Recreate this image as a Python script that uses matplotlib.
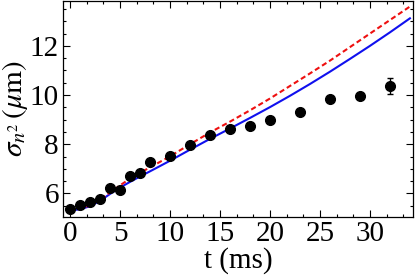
import matplotlib
matplotlib.use("Agg")
import matplotlib.pyplot as plt
from matplotlib.ticker import MultipleLocator, AutoMinorLocator

# Measured data
t_data = [0, 1, 2, 3, 4, 5, 6, 7, 8, 10, 12, 14, 16, 18, 20, 23, 26, 29, 32]
sigma_data = [5.35, 5.55, 5.65, 5.77, 6.23, 6.16, 6.70, 6.84, 7.28, 7.52, 7.95,
              8.37, 8.64, 8.75, 8.98, 9.32, 9.82, 9.96, 10.37]
sigma_err = [0, 0, 0, 0, 0, 0, 0, 0, 0, 0, 0, 0, 0, 0, 0, 0, 0, 0, 0.33]

# Model curves
t_blue = [0, 1, 2, 3, 4, 5, 6, 7, 8, 10, 12, 14, 16, 18, 20, 22, 24, 26, 28, 30, 32, 34]
sigma_blue = [5.30, 5.36, 5.48, 5.70, 5.98, 6.24, 6.47, 6.69, 6.90, 7.33, 7.78, 8.22,
              8.64, 9.07, 9.51, 9.97, 10.45, 10.95, 11.47, 12.00, 12.55, 13.12]
t_red = [0, 1, 2, 3, 4, 5, 6, 7, 8, 10, 12, 14, 16, 18, 20, 22, 24, 26, 28, 30, 32, 34]
sigma_red = [5.30, 5.37, 5.52, 5.75, 6.04, 6.33, 6.60, 6.84, 7.06, 7.51, 8.00, 8.48,
             8.92, 9.38, 9.86, 10.37, 10.88, 11.40, 11.95, 12.50, 13.05, 13.60]

plt.rcParams['font.family'] = ['Liberation Serif', 'DejaVu Serif']
plt.rcParams['mathtext.fontset'] = 'stix'

fig = plt.figure(figsize=(4.15, 2.79), dpi=100)
ax = fig.add_axes([0.152, 0.222, 0.843, 0.774])

ax.plot(t_blue, sigma_blue, color='#1010ee', lw=1.5, zorder=2)
ax.plot(t_red, sigma_red, color='#ee1010', lw=1.5, ls=(0, (2.5, 1.5)), zorder=2)
ax.errorbar(t_data, sigma_data, yerr=sigma_err, fmt='o', color='black', ms=7,
            elinewidth=1, capsize=2, capthick=1, zorder=3)

ax.set_xlim(-0.7, 34.3)
ax.set_ylim(5.04, 13.82)
ax.xaxis.set_major_locator(MultipleLocator(5))
ax.xaxis.set_minor_locator(AutoMinorLocator(3))
ax.yaxis.set_major_locator(MultipleLocator(2))
ax.yaxis.set_minor_locator(AutoMinorLocator(4))
ax.tick_params(which='both', direction='in', top=True, right=True, labelsize=21, width=0.8)
ax.tick_params(which='major', length=5, pad=3)
ax.tick_params(which='minor', length=2.5)
for s in ax.spines.values():
    s.set_linewidth(0.9)

ax.set_xlabel('t (ms)', fontsize=21, labelpad=0)
ax.set_ylabel(r'$\sigma_{n^2}\,(\mu\mathrm{m})$', fontsize=21, labelpad=0)

fig.savefig('out.png', dpi=100)
